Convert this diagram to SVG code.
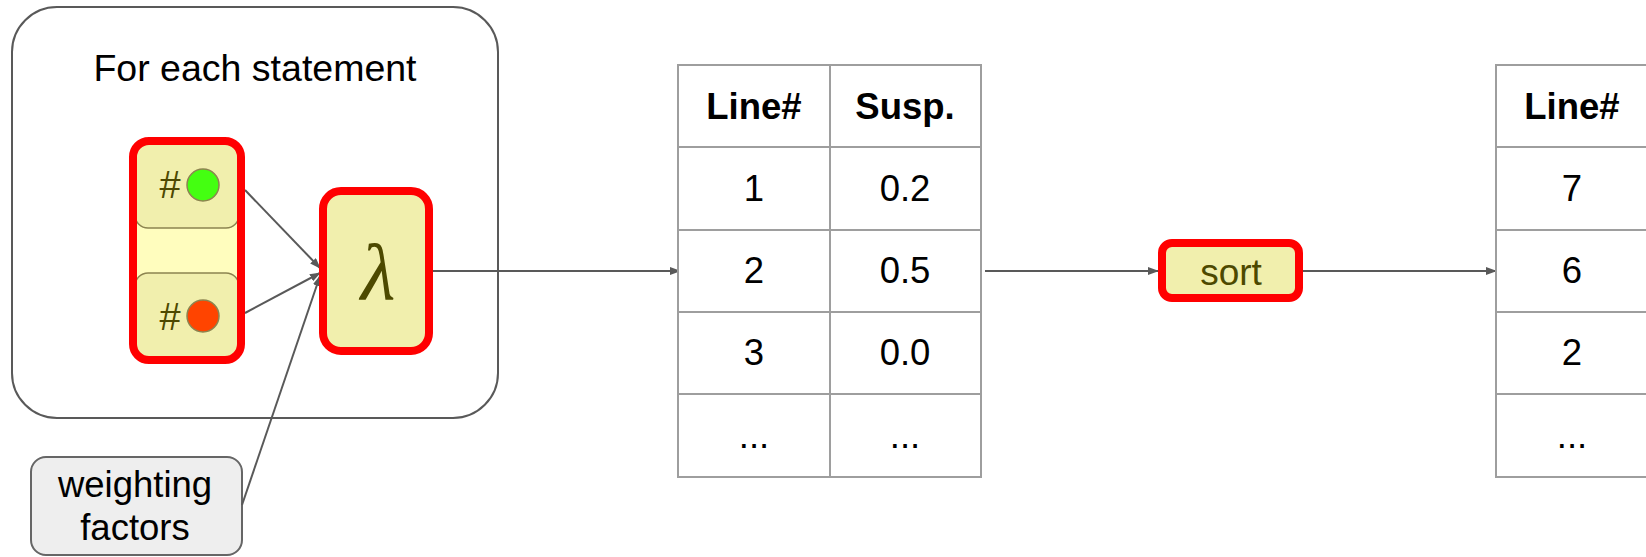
<svg xmlns="http://www.w3.org/2000/svg" width="1646" height="557" viewBox="0 0 1646 557">
<style>
text{font-family:"Liberation Sans",Arial,sans-serif;font-size:36.5px;text-anchor:middle;fill:#000}
.ol{fill:#4d4900}
.hl{stroke:#ff0000;stroke-width:8;fill:none}
.child{fill:#f1efad;stroke:#8c8450;stroke-width:1.5}
.conn{stroke:#595959;stroke-width:2;fill:none;marker-end:url(#ah)}
.tbl{stroke:#9e9e9e;stroke-width:2;fill:#fff}
.tl{stroke:#9e9e9e;stroke-width:2}
.b{font-weight:bold}
</style>
<defs>
<marker id="ah" markerUnits="userSpaceOnUse" markerWidth="11" markerHeight="8" refX="10" refY="4" orient="auto">
<path d="M0,0 L11,4 L0,8 z" fill="#595959"/>
</marker>
</defs>
<g id="loop">
<rect x="12" y="7" width="486" height="411" rx="45" fill="#fff" stroke="#595959" stroke-width="2"/>
<text x="255" y="81" style="font-size:37.5px">For each statement</text>
</g>
<g id="weighting">
<rect x="31" y="457" width="211" height="98" rx="15" fill="#eeeeee" stroke="#666" stroke-width="2"/>
<text x="135" y="497">weighting</text>
<text x="135" y="540">factors</text>
</g>
<g id="connectors">
<line class="conn" x1="245" y1="190" x2="320" y2="268"/>
<line class="conn" x1="245" y1="313" x2="320" y2="273"/>
<line class="conn" x1="242" y1="505" x2="320" y2="276"/>
<line class="conn" x1="433" y1="271" x2="680" y2="271"/>
<line class="conn" x1="985" y1="271" x2="1158" y2="271"/>
<line class="conn" x1="1303" y1="271" x2="1496" y2="271"/>
</g>
<g id="counts">
<rect x="133" y="141" width="108" height="219" rx="16" fill="#fffdbe"/>
<rect class="child" x="135" y="139" width="104" height="89" rx="13"/>
<rect class="child" x="135" y="273" width="104" height="87" rx="13"/>
<text class="ol" x="170" y="198" style="font-size:38px">#</text>
<circle cx="203" cy="185" r="16" fill="#44ff11" stroke="#8c8450" stroke-width="1.5"/>
<text class="ol" x="170" y="330" style="font-size:38px">#</text>
<circle cx="203" cy="316" r="16" fill="#ff4400" stroke="#8c8450" stroke-width="1.5"/>
<rect class="hl" x="133" y="141" width="108" height="219" rx="16"/>
</g>
<g id="lambda">
<rect x="323" y="191" width="106" height="160" rx="18" fill="#f1efad"/>
<rect class="hl" x="323" y="191" width="106" height="160" rx="18"/>
<text class="ol" x="378" y="299" style="font-family:'Liberation Serif','Times New Roman',serif;font-style:italic;font-size:80px">λ</text>
</g>
<g id="table1">
<rect class="tbl" x="678" y="65" width="303" height="412"/>
<line class="tl" x1="830" y1="65" x2="830" y2="477"/>
<line class="tl" x1="678" y1="147" x2="981" y2="147"/>
<line class="tl" x1="678" y1="230" x2="981" y2="230"/>
<line class="tl" x1="678" y1="312" x2="981" y2="312"/>
<line class="tl" x1="678" y1="394" x2="981" y2="394"/>
<text class="b" x="754" y="119">Line#</text>
<text class="b" x="905" y="119">Susp.</text>
<text x="754" y="201">1</text><text x="905" y="201">0.2</text>
<text x="754" y="283">2</text><text x="905" y="283">0.5</text>
<text x="754" y="365">3</text><text x="905" y="365">0.0</text>
<text x="754" y="448">...</text><text x="905" y="448">...</text>
</g>
<g id="sort">
<rect x="1162" y="243" width="137" height="55" rx="10" fill="#f1efad"/>
<rect class="hl" x="1162" y="243" width="137" height="55" rx="10"/>
<text class="ol" x="1231" y="285" style="font-size:37px">sort</text>
</g>
<g id="table2">
<rect class="tbl" x="1496" y="65" width="154" height="412"/>
<line class="tl" x1="1496" y1="147" x2="1650" y2="147"/>
<line class="tl" x1="1496" y1="230" x2="1650" y2="230"/>
<line class="tl" x1="1496" y1="312" x2="1650" y2="312"/>
<line class="tl" x1="1496" y1="394" x2="1650" y2="394"/>
<text class="b" x="1572" y="119">Line#</text>
<text x="1572" y="201">7</text>
<text x="1572" y="283">6</text>
<text x="1572" y="365">2</text>
<text x="1572" y="448">...</text>
</g>
</svg>
